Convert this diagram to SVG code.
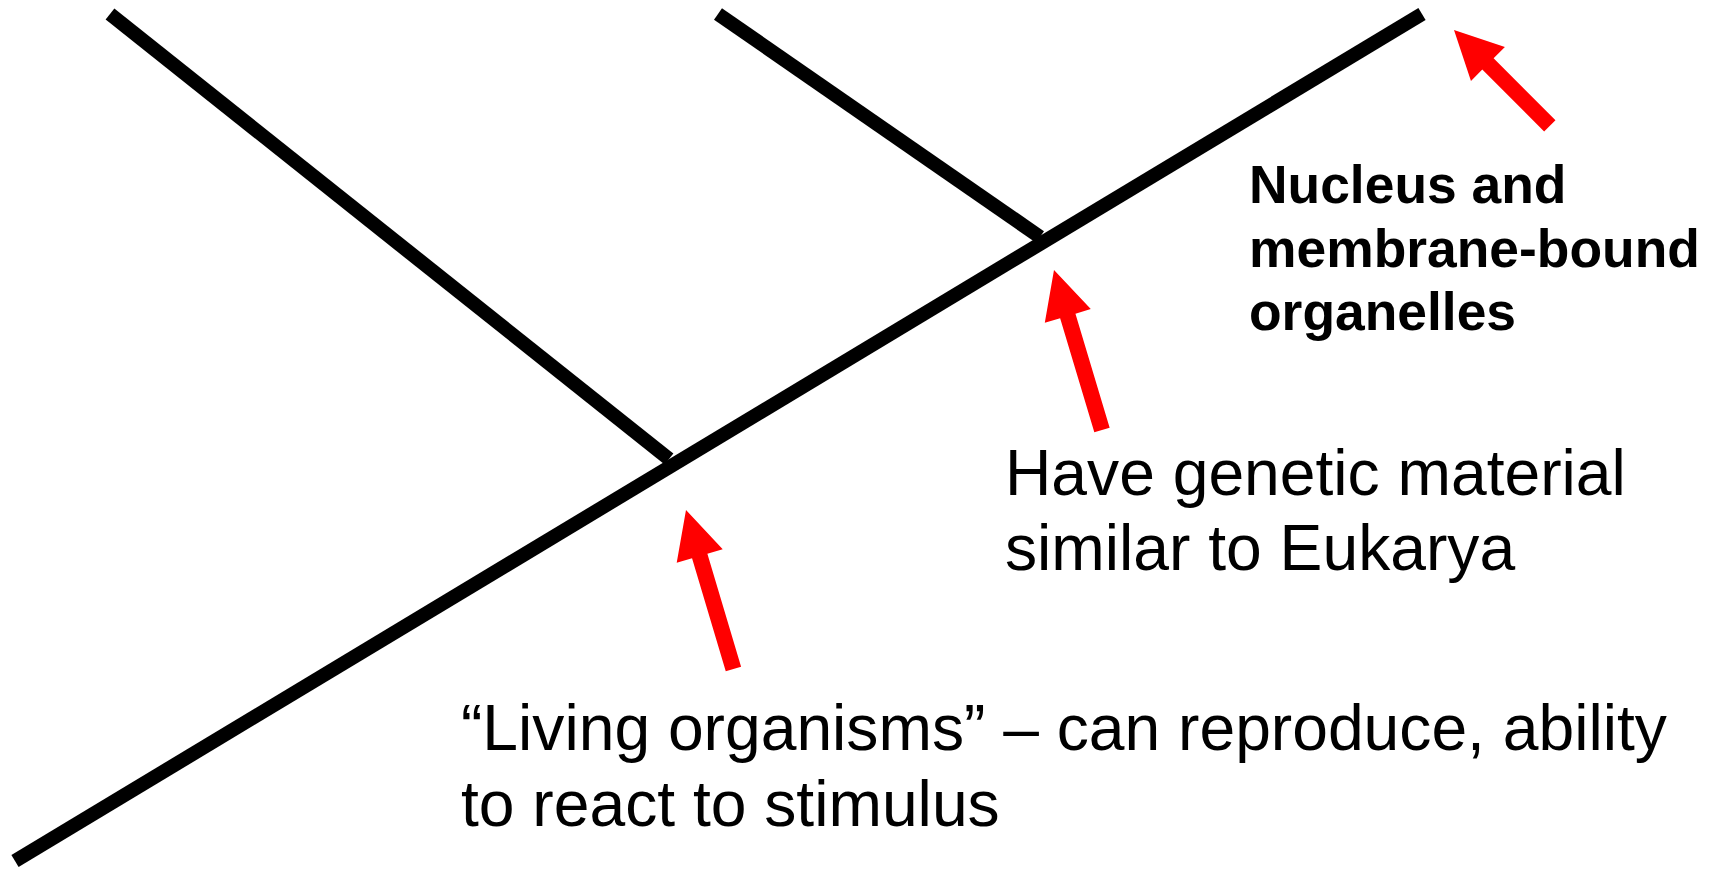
<svg xmlns="http://www.w3.org/2000/svg" width="1722" height="870" viewBox="0 0 1722 870">
<style>
.br{stroke:#000;stroke-width:14;fill:none;stroke-linecap:butt}
.ar{fill:#ff0000;stroke:none}
.t{font-family:"Liberation Sans",Arial,sans-serif;font-size:64.2px;fill:#000}
.b{font-family:"Liberation Sans",Arial,sans-serif;font-size:53.4px;font-weight:bold;fill:#000}
</style>
<rect width="1722" height="870" fill="#fff"/>
<g id="connectors">
<line class="br" x1="15" y1="861" x2="1422" y2="14"/>
<line class="br" x1="110" y1="14" x2="669" y2="459"/>
<line class="br" x1="718" y1="14" x2="1040" y2="237"/>
</g>
<g id="arrow-living">
<polygon class="ar" transform="translate(686,510) rotate(-16.6)" points="0,0 24,48 8,48 8,166 -8,166 -8,48 -24,48"/>
</g>
<g id="arrow-genetic">
<polygon class="ar" transform="translate(1054,270) rotate(-16.7)" points="0,0 24,48 8,48 8,167 -8,167 -8,48 -24,48"/>
</g>
<g id="arrow-nucleus">
<polygon class="ar" transform="translate(1454,30) rotate(-45)" points="0,0 24,48 8,48 8,135.5 -8,135.5 -8,48 -24,48"/>
</g>
<g id="label-nucleus">
<text class="b" x="1249" y="203">Nucleus and</text>
<text class="b" x="1249" y="267">membrane-bound</text>
<text class="b" x="1249" y="330">organelles</text>
</g>
<g id="label-genetic">
<text class="t" x="1005" y="495">Have genetic material</text>
<text class="t" x="1005" y="570">similar to Eukarya</text>
</g>
<g id="label-living">
<text class="t" x="461" y="750">“Living organisms” – can reproduce, ability</text>
<text class="t" x="461" y="826">to react to stimulus</text>
</g>
</svg>
